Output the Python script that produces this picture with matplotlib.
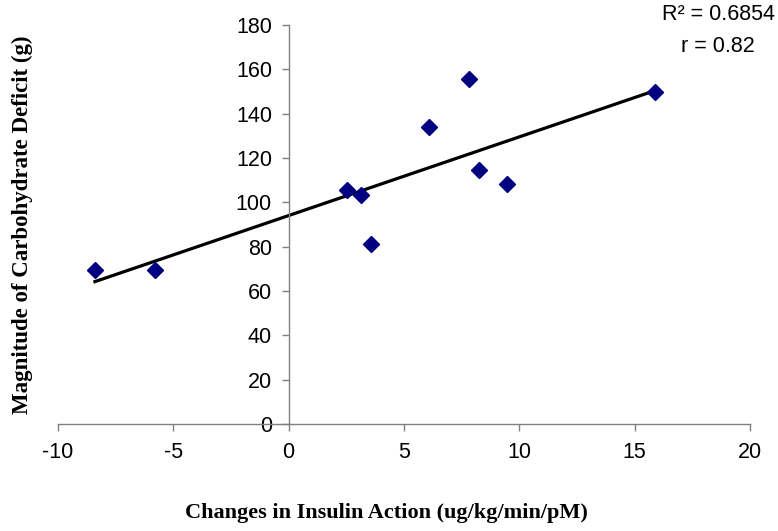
import numpy as np
import matplotlib
matplotlib.use("Agg")
import matplotlib.pyplot as plt

plt.rcParams["axes.unicode_minus"] = False

# Data
insulin_change = [-8.4, -5.8, 2.53, 3.13, 3.57, 6.08, 7.82, 8.25, 9.46, 15.88]
carb_deficit = [69.5, 69.5, 105.5, 103.3, 81.2, 134.0, 155.6, 114.6, 108.3, 149.8]
x_ticks = [-10, -5, 0, 5, 10, 15, 20]
y_ticks = [0, 20, 40, 60, 80, 100, 120, 140, 160, 180]
r2_text = "R² = 0.6854"
r_text = "r = 0.82"

fig = plt.figure(figsize=(7.78, 5.31), dpi=100)
ax = fig.add_axes([58/778, 107/531, (750-58)/778, (424-25)/531])

x = np.array(insulin_change)
y = np.array(carb_deficit)
slope, intercept = np.polyfit(x, y, 1)
xl = np.array([x.min(), x.max()])
ax.plot(xl, slope*xl + intercept, color="black", lw=2.3, zorder=2)
ax.plot(x, y, ls="none", marker="D", ms=8, color="#000080", zorder=3)

ax.set_xlim(-10, 20)
ax.set_ylim(0, 180)
ax.spines["top"].set_visible(False)
ax.spines["right"].set_visible(False)
ax.spines["left"].set_position(("data", 0))
ax.spines["bottom"].set_position(("data", 0))
for s in ("left", "bottom"):
    ax.spines[s].set_color("#808080")
    ax.spines[s].set_linewidth(1.0)
ax.set_xticks(x_ticks)
ax.set_yticks(y_ticks)
ax.tick_params(axis="both", direction="out", length=5, width=1.0, color="#808080",
               labelsize=15.5, labelcolor="black")
ax.tick_params(axis="x", pad=8)
ax.tick_params(axis="y", pad=7)
for lab in ax.get_xticklabels() + ax.get_yticklabels():
    lab.set_fontfamily("Liberation Sans")

fig.text(386/778, 1 - 513/531, "Changes in Insulin Action (ug/kg/min/pM)",
         ha="center", va="center", fontsize=16, fontweight="bold",
         family="Liberation Serif")
fig.text(22/778, 1 - 225/531, "Magnitude of Carbohydrate Deficit (g)",
         ha="center", va="center", rotation=90, fontsize=16.5, fontweight="bold",
         family="Liberation Serif")

fig.text(718/778, 1 - 15/531, r2_text, ha="center", va="center", fontsize=15.5,
         family="Liberation Sans")
fig.text(718/778, 1 - 46/531, r_text, ha="center", va="center", fontsize=15.5,
         family="Liberation Sans")

fig.savefig("out.png", dpi=100)
